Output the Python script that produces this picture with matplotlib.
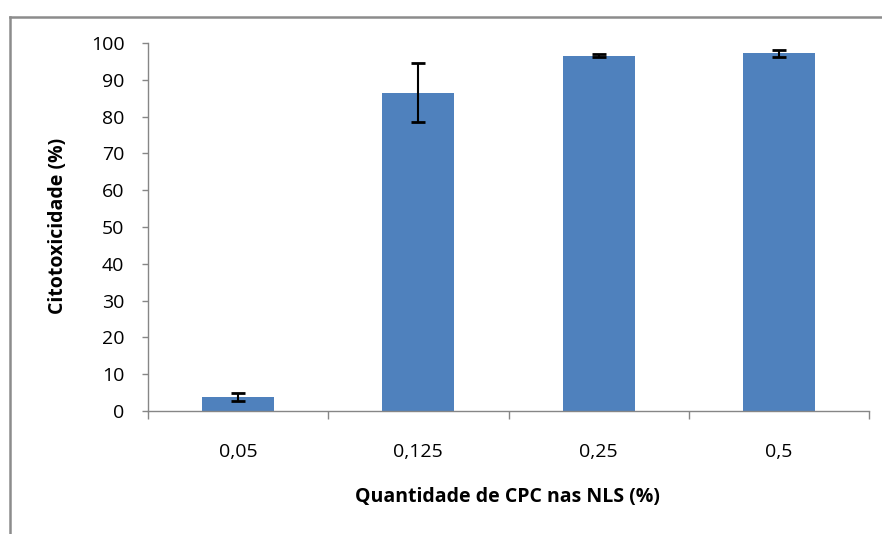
import matplotlib.pyplot as plt
from matplotlib.lines import Line2D

# valores
categorias = ['0,05', '0,125', '0,25', '0,5']
citotox = [3.8, 86.5, 96.6, 97.2]
erro = [1.2, 8.1, 0.3, 0.9]

plt.rcParams['font.family'] = ['Open Sans', 'DejaVu Sans']
cinza = '#868686'

fig = plt.figure(figsize=(8.82, 5.34), dpi=100)
ax = fig.add_axes([148 / 882, 1 - 411 / 534, (869 - 148) / 882, (411 - 43) / 534])

pos = range(len(categorias))
ax.bar(pos, citotox, width=0.4, color='#4F81BD', zorder=2)
ax.errorbar(pos, citotox, yerr=erro, fmt='none', ecolor='black',
            elinewidth=1.5, capsize=5, capthick=2, zorder=3)

ax.set_xlim(-0.5, 3.5)
ax.set_ylim(0, 100)
ax.set_yticks(range(0, 101, 10))

# ticks principais nas divisões, rótulos no centro das categorias
ax.set_xticks([-0.5, 0.5, 1.5, 2.5, 3.5])
ax.set_xticklabels([])
ax.set_xticks(list(pos), minor=True)
ax.set_xticklabels(categorias, minor=True)
ax.tick_params(axis='x', which='major', length=6, color=cinza, width=1)
ax.tick_params(axis='x', which='minor', length=0, pad=23, labelsize=14)
ax.tick_params(axis='y', length=4, color=cinza, width=1, pad=13, labelsize=14)

for s in ['top', 'right']:
    ax.spines[s].set_visible(False)
for s in ['left', 'bottom']:
    ax.spines[s].set_color(cinza)
    ax.spines[s].set_linewidth(1)

ax.set_ylabel('Citotoxicidade (%)', fontsize=14, fontweight='bold')
ax.yaxis.set_label_coords(-0.111, 0.503)
ax.set_xlabel('Quantidade de CPC nas NLS (%)', fontsize=14, fontweight='bold')
ax.xaxis.set_label_coords(0.499, -0.207)

# moldura da área do gráfico (só esquerda e topo visíveis)
x0 = 9.5 / 882
y0 = 1 - 16.5 / 534
fig.add_artist(Line2D([x0, x0], [0, y0], color='#8c8c8c', lw=1.8))
fig.add_artist(Line2D([x0, 1], [y0, y0], color='#8c8c8c', lw=1.8))

fig.savefig('out.png', dpi=100)
